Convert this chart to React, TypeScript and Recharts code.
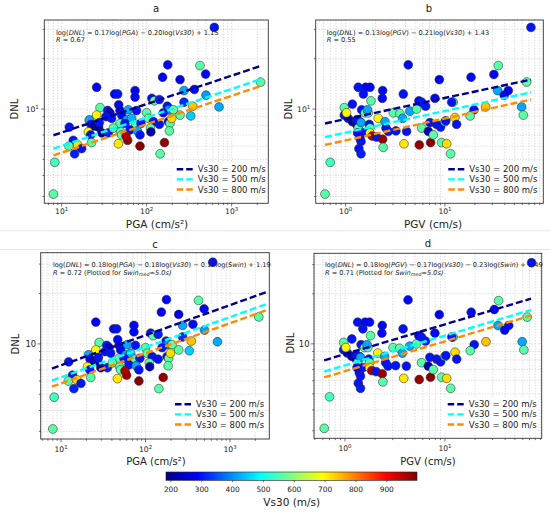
import React from 'react';
import { ScatterChart, Scatter, XAxis, YAxis, CartesianGrid } from 'recharts';

const FONT = '"DejaVu Sans", Verdana, sans-serif';

// ---------- data: panel a / c (PGA) ----------
const pgaA = [625, 424, 177, 154, 247, 494, 2190, 25.8, 42, 45.6, 73, 73, 275, 364, 499, 115, 123, 141, 275, 175, 180, 348, 710, 28.3, 34.8, 37, 46.9, 48.6, 60.8, 76, 100, 105, 157, 206, 247, 330, 12.3, 23.6, 25.8, 21.1, 22.1, 24.2, 27.2, 27.7, 33.2, 38.7, 50.8, 58.2, 66.7, 48.6, 55.6, 74.8, 85.7, 120, 141, 180, 188, 197, 20.6, 21.9, 29.6, 35.4, 40.6, 49.4, 63.7, 77.6, 111, 112, 185, 13.7, 12.2, 15.4, 17.2, 14.2, 22.5, 46.5, 50.8, 59.7, 57.2, 83.5, 83.5, 162, 144, 8.3, 8.0];
const dnlA = [30.8, 18.2, 18.4, 15.5, 15.0, 16.2, 14.5, 13.5, 12.3, 12.3, 12.9, 11.8, 12.9, 13.1, 12.1, 11.6, 11.2, 11.4, 11.0, 10.4, 9.9, 10.4, 10.3, 10.2, 9.8, 9.5, 10.6, 9.8, 9.9, 9.8, 9.5, 8.8, 9.5, 9.9, 9.2, 9.1, 7.8, 8.6, 9.2, 8.6, 8.1, 7.9, 7.8, 8.3, 9.0, 8.8, 9.2, 8.6, 8.8, 8.2, 8.2, 8.1, 8.2, 8.4, 8.1, 8.4, 8.2, 8.8, 7.3, 7.0, 7.2, 7.2, 7.7, 7.3, 7.5, 7.4, 7.7, 7.3, 7.4, 6.5, 6.0, 6.1, 5.8, 5.4, 6.3, 6.2, 7.0, 6.5, 6.9, 6.0, 7.0, 6.3, 5.4, 4.8, 3.1];
const vsA = [300, 560, 290, 280, 270, 290, 560, 280, 290, 300, 290, 290, 420, 290, 410, 300, 570, 310, 320, 300, 400, 740, 420, 560, 300, 250, 290, 280, 420, 300, 560, 570, 300, 570, 560, 450, 300, 560, 700, 420, 290, 220, 220, 300, 300, 300, 290, 420, 430, 560, 300, 560, 300, 300, 300, 290, 560, 720, 700, 300, 210, 310, 560, 560, 300, 420, 560, 220, 560, 300, 560, 720, 300, 310, 560, 710, 560, 980, 960, 990, 300, 980, 560, 540, 560];

// ---------- data: panel b / d (PGV) ----------
const pgvB = [73.4, 34.4, 4.27, 8.77, 18.3, 31.1, 66.4, 1.34, 1.59, 1.76, 1.51, 2.36, 2.34, 3.81, 1.8, 0.97, 1.17, 1.45, 1.57, 1.69, 1.66, 3.02, 3.52, 3.75, 4.44, 5.19, 5.47, 5.82, 6.39, 7.93, 12.1, 11.7, 19.6, 25.7, 33.9, 39.5, 43.4, 59.1, 61.5, 17.9, 0.97, 1.06, 1.02, 1.17, 1.29, 1.29, 1.39, 1.34, 1.43, 1.73, 1.76, 2.13, 2.49, 2.55, 2.69, 3.21, 4.11, 5.82, 6.8, 7.06, 8.24, 9.04, 10.0, 10.2, 12.6, 13.1, 1.51, 1.76, 1.85, 2.05, 2.36, 1.39, 1.43, 1.32, 1.36, 1.43, 2.39, 3.87, 5.52, 7.17, 7.63, 9.25, 10.4, 11.4, 0.7, 0.62];
const dnlB = [30.8, 18.2, 18.4, 15.0, 15.5, 16.1, 14.5, 13.5, 13.5, 13.5, 12.3, 12.9, 11.6, 12.3, 11.2, 10.2, 10.7, 9.9, 9.5, 9.5, 9.9, 9.5, 9.4, 8.8, 9.7, 10.0, 11.2, 11.0, 10.4, 11.6, 11.0, 11.0, 9.9, 10.3, 12.9, 12.1, 12.9, 10.3, 9.2, 9.1, 9.2, 8.8, 9.5, 8.4, 8.1, 8.6, 8.4, 7.7, 8.3, 8.1, 7.7, 8.8, 8.4, 7.7, 7.35, 7.4, 7.35, 7.7, 7.35, 8.3, 8.1, 7.8, 8.4, 8.5, 8.9, 8.1, 7.2, 7.2, 6.9, 6.8, 6.6, 6.7, 6.4, 7.2, 5.8, 5.4, 5.9, 6.2, 6.1, 6.3, 7.0, 6.3, 6.2, 5.4, 4.8, 3.1];
const vsB = [300, 560, 290, 280, 290, 290, 560, 300, 290, 290, 300, 290, 290, 300, 560, 560, 300, 300, 560, 560, 420, 560, 560, 420, 420, 560, 290, 300, 300, 290, 560, 300, 300, 740, 420, 290, 290, 420, 560, 560, 300, 300, 700, 220, 220, 300, 300, 560, 420, 300, 560, 700, 420, 300, 300, 300, 300, 560, 220, 300, 300, 300, 560, 300, 720, 300, 300, 700, 960, 300, 980, 300, 300, 290, 300, 310, 560, 710, 980, 990, 560, 560, 720, 560, 540, 560];

// ---------- fitted lines (end points) ----------
const fitXA = [8, 2190];
const fitA200 = [6.97, 18.1];
const fitA500 = [5.8, 15.07];
const fitA800 = [5.28, 13.72];
const fitXB = [0.62, 73.4];
const fitB200 = [8.2, 15.0];
const fitB500 = [6.8, 12.6];
const fitB800 = [6.1, 11.4];
const fitXC = [7.8, 2700];
const fitC200 = [7.12, 20.4];
const fitC500 = [6.04, 17.3];
const fitC800 = [5.55, 15.9];
const fitXD = [0.62, 72.4];
const fitD200 = [7.96, 18.7];
const fitD500 = [6.81, 16.0];
const fitD800 = [6.28, 14.8];

// ---------- ticks ----------
const xTicksA = [7, 8, 9, 10, 20, 30, 40, 50, 60, 70, 80, 90, 100, 200, 300, 400, 500, 600, 700, 800, 900, 1000, 2000];
const xTicksC = [6, 7, 8, 9, 10, 20, 30, 40, 50, 60, 70, 80, 90, 100, 200, 300, 400, 500, 600, 700, 800, 900, 1000, 2000];
const xTicksB = [0.6, 0.7, 0.8, 0.9, 1, 2, 3, 4, 5, 6, 7, 8, 9, 10, 20, 30, 40, 50, 60, 70, 80, 90];
const xTicksD = [0.5, 0.6, 0.7, 0.8, 0.9, 1, 2, 3, 4, 5, 6, 7, 8, 9, 10, 20, 30, 40, 50, 60, 70, 80, 90];
const yTicks = [3, 4, 5, 6, 7, 8, 9, 10, 20, 30];
const cbTicks = [200, 300, 400, 500, 600, 700, 800, 900];

const legendLabels = ['Vs30 = 200 m/s', 'Vs30 = 500 m/s', 'Vs30 = 800 m/s'];
const lineColors = ['#00008b', '#00ffff', '#ff8c00'];

const VMIN = 184;
const VMAX = 998;

function clamp01(v: number) {
  return Math.max(0, Math.min(1, v));
}
function jetT(t: number) {
  const r = clamp01(Math.min(4 * t - 1.5, -4 * t + 4.5));
  const g = clamp01(Math.min(4 * t - 0.5, -4 * t + 3.5));
  const b = clamp01(Math.min(4 * t + 0.5, -4 * t + 2.5));
  return `rgb(${Math.round(r * 255)},${Math.round(g * 255)},${Math.round(b * 255)})`;
}
function jet(v: number) {
  return jetT(clamp01((v - VMIN) / (VMAX - VMIN)));
}

function isPow10(v: number) {
  const l = Math.log10(v);
  return Math.abs(l - Math.round(l)) < 1e-9;
}

const pointsA = pgaA.map((x, i) => ({ x, y: dnlA[i], vs: vsA[i] }));
const pointsB = pgvB.map((x, i) => ({ x, y: dnlB[i], vs: vsB[i] }));
const mkLine = (xs: number[], ys: number[]) => xs.map((x, i) => ({ x, y: ys[i] }));
const linesA = [mkLine(fitXA, fitA200), mkLine(fitXA, fitA500), mkLine(fitXA, fitA800)];
const linesB = [mkLine(fitXB, fitB200), mkLine(fitXB, fitB500), mkLine(fitXB, fitB800)];
const linesC = [mkLine(fitXC, fitC200), mkLine(fitXC, fitC500), mkLine(fitXC, fitC800)];
const linesD = [mkLine(fitXD, fitD200), mkLine(fitXD, fitD500), mkLine(fitXD, fitD800)];

const DotShape = (props: any) => {
  const { cx, cy, payload } = props;
  if (cx == null || cy == null) return <g />;
  return <circle cx={cx} cy={cy} r={4.4} fill={jet(payload.vs)} stroke="#2a2a2a" strokeWidth={0.55} />;
};
const NoShape = () => <g />;

type PanelProps = {
  left: number;
  top: number;
  width: number;
  height: number;
  box: { l: number; t: number; r: number; b: number };
  xDomain: [number, number];
  yDomain: [number, number];
  xTicks: number[];
  points: any[];
  lines: any[][];
  supY: boolean;
  xLabOff: number;
};

function Panel(p: PanelProps) {
  const bl = p.box.l - p.left;
  const bt = p.box.t - p.top;
  const br = p.box.r - p.left;
  const bb = p.box.b - p.top;
  const margin = { top: bt, right: p.width - br, left: 0, bottom: 0 };

  const XTick = (props: any) => {
    const v = props.payload.value;
    const x = props.x;
    const major = isPow10(v);
    const e = Math.round(Math.log10(v));
    return (
      <g>
        <line x1={x} x2={x} y1={bb} y2={bb + (major ? 3.2 : 1.8)} stroke="#333" strokeWidth={0.7} />
        {major && (
          <text x={x} y={bb + p.xLabOff} textAnchor="middle" fontSize={7.6} fill="#222" fontFamily={FONT}>
            10<tspan dy={-3.2} fontSize={5.4}>{e}</tspan>
          </text>
        )}
      </g>
    );
  };
  const YTick = (props: any) => {
    const v = props.payload.value;
    const y = props.y;
    const major = isPow10(v);
    return (
      <g>
        <line x1={bl} x2={bl - (major ? 3.2 : 1.8)} y1={y} y2={y} stroke="#333" strokeWidth={0.7} />
        {major &&
          (p.supY ? (
            <text x={bl - 5.5} y={y + 2.8} textAnchor="end" fontSize={7.6} fill="#222" fontFamily={FONT}>
              10<tspan dy={-3.2} fontSize={5.4}>1</tspan>
            </text>
          ) : (
            <text x={bl - 4.5} y={y + 3} textAnchor="end" fontSize={8.4} fill="#222" fontFamily={FONT}>
              10
            </text>
          ))}
      </g>
    );
  };

  return (
    <div style={{ position: 'absolute', left: p.left, top: p.top }}>
      <ScatterChart width={p.width} height={p.height} margin={margin}>
        <CartesianGrid stroke="#bdbdbd" strokeDasharray="1.2 1.6" strokeWidth={0.6} />
        <XAxis
          type="number"
          dataKey="x"
          scale="log"
          domain={p.xDomain}
          allowDataOverflow
          ticks={p.xTicks}
          interval={0}
          height={p.height - bb}
          tickSize={0}
          tickMargin={0}
          axisLine={false}
          tickLine={false}
          tick={(props: any) => <XTick {...props} />}
        />
        <YAxis
          type="number"
          dataKey="y"
          scale="log"
          domain={p.yDomain}
          allowDataOverflow
          ticks={yTicks}
          interval={0}
          width={bl}
          tickSize={0}
          tickMargin={0}
          axisLine={false}
          tickLine={false}
          tick={(props: any) => <YTick {...props} />}
        />
        <Scatter data={p.points} shape={DotShape} isAnimationActive={false} />
        {p.lines.map((ld, i) => (
          <Scatter
            key={i}
            data={ld}
            fill={lineColors[i]}
            line={{ strokeWidth: 2.4, strokeDasharray: '7 3' }}
            shape={NoShape}
            isAnimationActive={false}
          />
        ))}
      </ScatterChart>
    </div>
  );
}

function Legend({ x, y }: { x: number; y: number }) {
  return (
    <g>
      <rect x={x - 5} y={y - 7} width={95} height={35} fill="#fff" fillOpacity={0.85} rx={2} />
      {legendLabels.map((lab, i) => (
        <g key={i}>
          <line x1={x} x2={x + 18} y1={y + i * 10.1} y2={y + i * 10.1} stroke={lineColors[i]} strokeWidth={2.4} strokeDasharray="6.5 3" />
          <text x={x + 21} y={y + i * 10.1 + 3} fontSize={8.5} fill="#222" fontFamily={FONT}>
            {lab}
          </text>
        </g>
      ))}
    </g>
  );
}

function Annot({ x, y, lines }: { x: number; y: number; lines: any[][] }) {
  return (
    <g>
      {lines.map((segs, i) => (
        <text key={i} x={x} y={y + i * 7.6} fontSize={6.6} fill="#222" fontFamily={FONT}>
          {segs.map((s: any, j: number) =>
            typeof s === 'string' ? (
              <tspan key={j}>{s}</tspan>
            ) : s.sub ? (
              <tspan key={j} fontStyle="italic" fontSize={4.8} dy={1.5}>
                {s.sub}
              </tspan>
            ) : (
              <tspan key={j} fontStyle="italic" dy={s.dy || 0}>
                {s.i}
              </tspan>
            )
          )}
        </text>
      ))}
    </g>
  );
}

const annA = [
  ['log(', { i: 'DNL' }, ') = 0.17log(', { i: 'PGA' }, ') − 0.20log(', { i: 'Vs30' }, ') + 1.15'],
  [{ i: 'R' }, ' = 0.67'],
];
const annB = [
  ['log(', { i: 'DNL' }, ') = 0.13log(', { i: 'PGV' }, ') − 0.21log(', { i: 'Vs30' }, ') + 1.43'],
  [{ i: 'R' }, ' = 0.55'],
];
const annC = [
  ['log(', { i: 'DNL' }, ') = 0.18log(', { i: 'PGA' }, ') − 0.18log(', { i: 'Vs30' }, ') − 0.12log(', { i: 'Swin' }, ') + 1.19'],
  [{ i: 'R' }, ' = 0.72 (Plotted for ', { i: 'Swin' }, { sub: 'med' }, { i: '=5.0s)', dy: -1.5 }],
];
const annD = [
  ['log(', { i: 'DNL' }, ') = 0.18log(', { i: 'PGV' }, ') − 0.17log(', { i: 'Vs30' }, ') − 0.23log(', { i: 'Swin' }, ') + 1.49'],
  [{ i: 'R' }, ' = 0.71 (Plotted for ', { i: 'Swin' }, { sub: 'med' }, { i: '=5.0s)', dy: -1.5 }],
];

const boxA = { l: 44.3, t: 20, r: 268.3, b: 203.3 };
const boxB = { l: 315.7, t: 20, r: 543.3, b: 203.3 };
const boxC = { l: 40.7, t: 252.7, r: 269.3, b: 439 };
const boxD = { l: 314, t: 253.3, r: 541.7, b: 438.3 };

const CB = { x: 166, y: 472, w: 251, h: 8.3 };

export default function App() {
  const cbX = (v: number) => CB.x + ((v - VMIN) / (VMAX - VMIN)) * CB.w;
  const stops = Array.from({ length: 41 }, (_, i) => i / 40);
  const boxes = [boxA, boxB, boxC, boxD];
  return (
    <div style={{ position: 'absolute', left: 0, top: 0, width: 550, height: 517, background: '#fff', fontFamily: FONT, overflow: 'hidden' }}>
      <Panel left={0} top={0} width={275} height={240} box={boxA} xDomain={[6.25, 2698]} yDomain={[2.73, 34.1]} xTicks={xTicksA} points={pointsA} lines={linesA} supY xLabOff={11} />
      <Panel left={275} top={0} width={275} height={240} box={boxB} xDomain={[0.5, 97.7]} yDomain={[2.73, 34.1]} xTicks={xTicksB} points={pointsB} lines={linesB} supY xLabOff={11} />
      <Panel left={0} top={240} width={275} height={220} box={boxC} xDomain={[5.75, 2917]} yDomain={[2.7, 35.1]} xTicks={xTicksC} points={pointsA} lines={linesC} supY={false} xLabOff={12.8} />
      <Panel left={275} top={240} width={275} height={220} box={boxD} xDomain={[0.49, 92.7]} yDomain={[2.7, 35.1]} xTicks={xTicksD} points={pointsB} lines={linesD} supY={false} xLabOff={12.8} />
      <svg width={550} height={517} style={{ position: 'absolute', left: 0, top: 0, pointerEvents: 'none' }} fontFamily={FONT}>
        <defs>
          <linearGradient id="jetgrad" x1="0" x2="1" y1="0" y2="0">
            {stops.map((t, i) => (
              <stop key={i} offset={t} stopColor={jetT(t)} />
            ))}
          </linearGradient>
        </defs>
        <line x1={0} x2={550} y1={230.7} y2={230.7} stroke="#e6e6e6" strokeWidth={1} />
        <line x1={0} x2={550} y1={249.5} y2={249.5} stroke="#e6e6e6" strokeWidth={1} />
        {boxes.map((b, i) => (
          <rect key={i} x={b.l} y={b.t} width={b.r - b.l} height={b.b - b.t} fill="none" stroke="#3a3a3a" strokeWidth={0.9} />
        ))}
        <text x={156} y={12} textAnchor="middle" fontSize={10} fill="#222">a</text>
        <text x={429} y={12} textAnchor="middle" fontSize={10} fill="#222">b</text>
        <text x={155} y={247.5} textAnchor="middle" fontSize={10} fill="#222">c</text>
        <text x={428} y={247} textAnchor="middle" fontSize={10} fill="#222">d</text>

        <text x={157} y={228} textAnchor="middle" fontSize={10.5} fill="#222">PGA (cm/s²)</text>
        <text x={433} y={228} textAnchor="middle" fontSize={10.5} fill="#222">PGV (cm/s)</text>
        <text x={156} y={464.5} textAnchor="middle" fontSize={10} fill="#222">PGA (cm/s²)</text>
        <text x={428} y={464.5} textAnchor="middle" fontSize={10} fill="#222">PGV (cm/s)</text>

        <text transform="translate(18,109) rotate(-90)" textAnchor="middle" fontSize={10} fill="#222">DNL</text>
        <text transform="translate(291.5,109) rotate(-90)" textAnchor="middle" fontSize={10} fill="#222">DNL</text>
        <text transform="translate(18.5,344) rotate(-90)" textAnchor="middle" fontSize={10} fill="#222">DNL</text>
        <text transform="translate(293.5,343) rotate(-90)" textAnchor="middle" fontSize={10} fill="#222">DNL</text>

        <Annot x={56} y={34.6} lines={annA} />
        <Annot x={326.7} y={34.6} lines={annB} />
        <Annot x={53} y={267.3} lines={annC} />
        <Annot x={325} y={267.3} lines={annD} />

        <Legend x={176.7} y={169.3} />
        <Legend x={448.3} y={169.3} />
        <Legend x={175} y={404.3} />
        <Legend x={447.7} y={404.3} />

        <rect x={CB.x} y={CB.y} width={CB.w} height={CB.h} fill="url(#jetgrad)" stroke="#222" strokeWidth={0.6} />
        {cbTicks.map((v) => (
          <g key={v}>
            <line x1={cbX(v)} x2={cbX(v)} y1={CB.y + CB.h} y2={CB.y + CB.h + 2} stroke="#222" strokeWidth={0.6} />
            <text x={cbX(v)} y={492} textAnchor="middle" fontSize={7.4} fill="#222">{v}</text>
          </g>
        ))}
        <text x={291.7} y={505.5} textAnchor="middle" fontSize={10.5} fill="#222">Vs30 (m/s)</text>
      </svg>
    </div>
  );
}
